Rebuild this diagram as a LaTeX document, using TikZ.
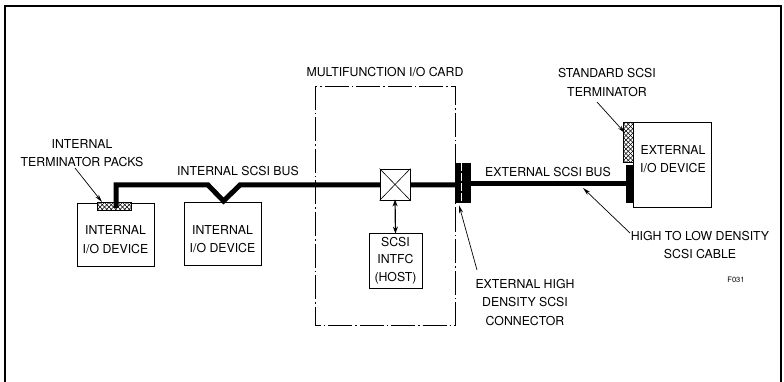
\documentclass[tikz,border=0pt]{standalone}
\usepackage{fontspec}
\setmainfont{TeX Gyre Heros}
\usetikzlibrary{arrows.meta,calc}
\tikzset{
  lbl/.style={font=\fontsize{12.3}{18.5}\selectfont, align=center, inner sep=0pt},
  devbox/.style={draw, line width=0.9pt, rectangle, inner sep=0pt, anchor=north west},
  bus/.style={line width=5pt, line join=miter},
  pointer/.style={line width=0.7pt, -{Stealth[length=8pt,width=4pt]}},
  cardline/.style={line width=0.8pt, dash pattern=on 24pt off 3pt on 1.5pt off 3pt},
}
\newcommand{\hatchrect}[4]{%
  \begin{scope}
    \clip (#1,#2) rectangle (#3,#4);
    \fill[white] (#1,#2) rectangle (#3,#4);
    \foreach \k in {-60,-55.5,...,60} {
      \draw[line width=0.5pt] (#1+\k,#2) -- ++(50,50);
      \draw[line width=0.5pt] (#1+\k,#2) -- ++(-50,50);
    }
  \end{scope}
  \draw[line width=0.6pt] (#1,#2) rectangle (#3,#4);
}
\begin{document}
\begin{tikzpicture}[x=1pt,y=-1pt]
\useasboundingbox (0,0) rectangle (784,382);
% outer frame
\draw[line width=1.3pt] (5,382) -- (5,6) -- (781,6) -- (781,382);

% internal devices
\node[devbox, minimum width=77pt, minimum height=63pt] (dev1) at (77,203) {};
\node[lbl] (dev1t) at (115.5,239.5) {INTERNAL\\I/O DEVICE};
\node[devbox, minimum width=77pt, minimum height=63pt] (dev2) at (184,202) {};
\node[lbl] (dev2t) at (222.5,239) {INTERNAL\\I/O DEVICE};

% internal terminator pack
\hatchrect{97}{202.5}{131}{210.5}
\coordinate (tp) at (102,202);
\node[lbl] (tpl) at (82,153) {INTERNAL\\TERMINATOR PACKS};
\coordinate (tps) at (75,168);
\draw[pointer] (tps) -- (tp);

% multifunction card
\draw[cardline] (315,86) rectangle (455,325);
\node[lbl] (cardl) at (385,72) {MULTIFUNCTION I/O CARD};

% internal bus
\coordinate (b0) at (116,208);
\coordinate (b1) at (116,185);
\coordinate (b2) at (208,185);
\coordinate (b3) at (223.5,201);
\coordinate (b4) at (240,185);
\coordinate (b5) at (460,185);
\draw[bus] (b0) -- (b1) -- (b2) -- (b3) -- (b4) -- (b5);
\node[lbl] (ibus) at (238,171) {INTERNAL SCSI BUS};

% cross box
\node[draw, line width=0.8pt, fill=white, minimum width=30pt, minimum height=31pt, inner sep=0pt] (xbox) at (395,184.5) {};
\draw[line width=0.6pt] (xbox.north west) -- (xbox.south east) (xbox.north east) -- (xbox.south west);

% SCSI interface
\node[draw, line width=0.8pt, minimum width=53pt, minimum height=55pt, inner sep=0pt, align=center, font=\fontsize{12.3}{17.5}\selectfont] (host) at (395.5,260.5) {SCSI\\INTFC\\(HOST)};
\draw[line width=1.2pt, {Stealth[length=7pt,width=5pt]}-{Stealth[length=7pt,width=5pt]}] ([yshift=1pt]xbox.south) -- ([yshift=-1pt]host.north);

% external connector
\node[fill=black, minimum width=16pt, minimum height=40pt, inner sep=0pt] (conn) at (463,183) {};
\draw[white, line width=0.6pt, dash pattern=on 8pt off 2pt] ([xshift=-2pt]conn.north) -- ([xshift=-2pt]conn.south);
\node[lbl, align=center] (connl) at (525,302.5) {EXTERNAL HIGH\\DENSITY SCSI\\CONNECTOR};
\coordinate (conns) at (477,270);
\draw[pointer] (conns) -- ([xshift=-4pt,yshift=-2pt]conn.south);

% external device
\node[devbox, minimum width=78pt, minimum height=85pt] (dev3) at (633,122) {};
\node[lbl] (dev3t) at (673,159) {EXTERNAL\\I/O DEVICE};
\hatchrect{623}{122}{633}{162}
\node[fill=black, minimum width=8pt, minimum height=38pt, inner sep=0pt] (dend) at (630,184.5) {};
\node[lbl] (terml) at (607,82.5) {STANDARD SCSI\\TERMINATOR};
\coordinate (terms) at (597,102);
\coordinate (termt) at (625,133);
\draw[pointer] (terms) -- (termt);

% external bus
\draw[bus] (conn.east |- 0,184) -- (dend.west |- 0,184);
\node[lbl] (ebus) at (548,172) {EXTERNAL SCSI BUS};

% cable label
\node[lbl] (cablel) at (700,245) {HIGH TO LOW DENSITY\\SCSI CABLE};
\coordinate (cables) at (630,233);
\coordinate (cablet) at (583,188);
\draw[pointer] (cables) -- (cablet);

\node[font=\fontsize{7.5}{9}\selectfont, inner sep=0pt] (fig) at (736,280) {F031};
\end{tikzpicture}
\end{document}
